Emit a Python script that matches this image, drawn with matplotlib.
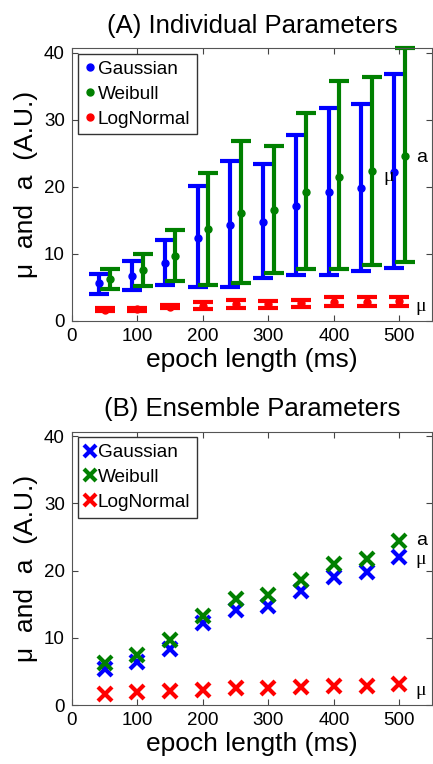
import matplotlib
matplotlib.use("Agg")
import matplotlib.pyplot as plt
import numpy as np
from matplotlib.lines import Line2D

plt.rcParams['font.family'] = ['Liberation Sans', 'DejaVu Sans']

epoch = np.array([50, 100, 150, 200, 250, 300, 350, 400, 450, 500])

# (A) individual parameters: mean, upper and lower end of bars
gauss_mu = [5.6, 6.7, 8.6, 12.4, 14.3, 14.8, 17.2, 19.2, 19.9, 22.2]
gauss_hi = [7.0, 9.0, 12.0, 20.1, 23.9, 23.4, 27.7, 31.8, 32.3, 36.8]
gauss_lo = [4.0, 4.6, 5.3, 5.0, 5.1, 6.4, 6.9, 6.8, 7.5, 7.9]

weib_a = [6.2, 7.6, 9.7, 13.7, 16.1, 16.5, 19.2, 21.5, 22.3, 24.6]
weib_hi = [7.8, 10.0, 13.5, 22.1, 26.8, 26.1, 31.0, 35.8, 36.4, 40.7]
weib_lo = [4.7, 5.2, 6.0, 5.4, 5.7, 7.2, 7.7, 7.7, 8.4, 8.8]

logn_mu = [1.65, 1.75, 2.1, 2.25, 2.5, 2.5, 2.6, 2.85, 2.85, 2.95]
logn_hi = [1.85, 1.95, 2.3, 2.75, 3.05, 3.0, 3.15, 3.5, 3.5, 3.55]
logn_lo = [1.4, 1.5, 1.85, 1.75, 1.9, 1.95, 2.0, 2.15, 2.15, 2.25]

# (B) ensemble parameters
ens_gauss = [5.3, 6.4, 8.4, 12.2, 14.2, 14.7, 16.9, 19.0, 19.75, 22.0]
ens_weib = [6.2, 7.5, 9.7, 13.3, 15.8, 16.3, 18.6, 21.0, 21.7, 24.4]
ens_logn = [1.7, 1.9, 2.1, 2.3, 2.5, 2.6, 2.7, 2.9, 2.9, 3.1]

names = ['Gaussian', 'Weibull', 'LogNormal']
cols = ['#0000ff', '#008000', '#ff0000']

fig = plt.figure(figsize=(4.33, 7.64), dpi=100)
axA = fig.add_axes([0.166, 0.580, 0.832, 0.357])
axB = fig.add_axes([0.166, 0.0772, 0.832, 0.358])


def style(ax, title):
    ax.set_xlim(0, 550)
    ax.set_ylim(0, 40.7)
    ax.set_xticks([0, 100, 200, 300, 400, 500])
    ax.set_yticks([0, 10, 20, 30, 40])
    ax.tick_params(direction='in', top=True, right=True, labelsize=13.5,
                   length=4, color='#444444', pad=5)
    for s in ax.spines.values():
        s.set_color('#555555')
    ax.set_title(title, fontsize=18.5, pad=11)
    ax.set_xlabel('epoch length (ms)', fontsize=19, labelpad=2)
    ax.set_ylabel('\u03bc  and  a  (A.U.)', fontsize=19, labelpad=4)


def bars(ax, x, y, hi, lo, c):
    y = np.array(y)
    err = [y - np.array(lo), np.array(hi) - y]
    ax.errorbar(x, y, yerr=err, fmt='o', color=c, ms=5, elinewidth=3,
                capsize=7.5, capthick=3, clip_on=False)


def legend(ax, handles):
    ax.legend(handles, names, loc='upper left', fontsize=13.7,
              handlelength=0.6, handletextpad=0.1, borderpad=0.35,
              labelspacing=0.4, fancybox=False, edgecolor='#333333',
              framealpha=1, borderaxespad=0.3)


bars(axA, epoch - 8, gauss_mu, gauss_hi, gauss_lo, cols[0])
bars(axA, epoch + 8, weib_a, weib_hi, weib_lo, cols[1])
bars(axA, epoch, logn_mu, logn_hi, logn_lo, cols[2])
style(axA, '(A) Individual Parameters')
legend(axA, [Line2D([], [], ls='none', marker='o', ms=5, color=c)
             for c in cols])

sf = dict(family=['Liberation Serif', 'DejaVu Serif'], fontsize=14)
axA.text(525, 24.4, 'a', va='center', ha='left', fontsize=14)
axA.text(476, 21.5, '\u03bc', va='center', ha='left', **sf)
axA.text(525, 2.2, '\u03bc', va='center', ha='left', **sf)

for yv, c in zip([ens_gauss, ens_weib, ens_logn], cols):
    axB.plot(epoch, yv, ls='none', marker='x', ms=10, mew=3, color=c)
style(axB, '(B) Ensemble Parameters')
legend(axB, [Line2D([], [], ls='none', marker='x', ms=9, mew=3, color=c)
             for c in cols])

axB.text(525, 24.5, 'a', va='center', ha='left', fontsize=14)
axB.text(525, 21.7, '\u03bc', va='center', ha='left', **sf)
axB.text(525, 2.2, '\u03bc', va='center', ha='left', **sf)

fig.savefig('out.png', dpi=100)
